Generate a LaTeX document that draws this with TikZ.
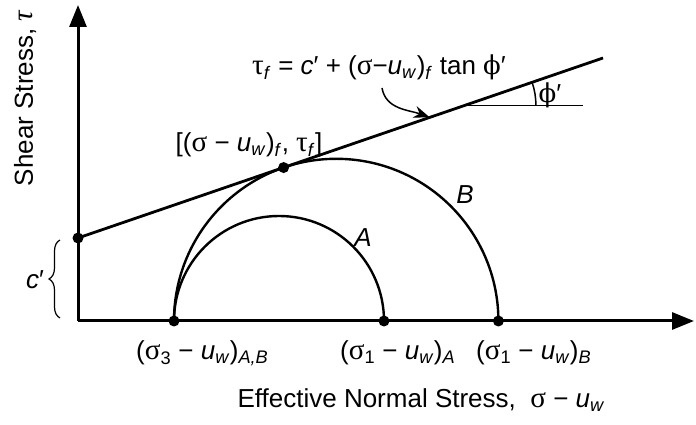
\documentclass[tikz,border=0pt]{standalone}
\usepackage{fontspec}
\setmainfont{Liberation Sans}
\newfontfamily\grk[Scale=1.12]{Liberation Serif}
\newfontfamily\phifont{DejaVu Serif}
\usepackage{tikz}
\usetikzlibrary{arrows.meta, calc, decorations.pathreplacing}
\newcommand{\sig}{{\grk σ}}
\newcommand{\tu}{{\grk τ}}
\newcommand{\fy}{{\phifont ϕ}}
\newcommand{\uw}{\textit{u}\textsubscript{\textit{w}}}
\newcommand{\sub}[1]{\textsubscript{#1}}
\tikzset{
  axis/.style={line width=3pt, -{Triangle[length=22pt, width=17pt]}},
  envl/.style={line width=2.8pt},
  mohr/.style={line width=2.4pt},
  guide/.style={line width=1.5pt},
  dot/.style={circle, fill=black, inner sep=0pt, minimum size=11pt},
  lbl/.style={font=\fontsize{26}{30}\selectfont, inner sep=0pt},
}

\begin{document}
\begin{tikzpicture}[x=1pt, y=1pt]
  \useasboundingbox (-78,-104) rectangle (618,321);
  % axes
  \coordinate (o) at (0,0);
  \coordinate (ytop) at (0,316);
  \coordinate (xend) at (616,0);
  \draw[axis] (o) -- (ytop);
  \draw[axis] (o) -- (xend);
  % points on the axes
  \node[dot] (cp) at (0,83) {};
  \node[dot] (s3) at (96,0) {};
  \node[dot] (s1a) at (306,0) {};
  \node[dot] (s1b) at (420.4,0) {};
  % Mohr circles
  \draw[mohr] (s3.center) arc[start angle=180, end angle=0, radius=105pt];
  \draw[mohr] (s3.center) arc[start angle=180, end angle=0, radius=162.2pt];
  % failure envelope, tangent to circle B
  \coordinate (lend) at (525,263);
  \draw[envl] (cp.center) -- (lend);
  \node[dot] (tp) at ($(258.2,0)+(108.92:162.2)$) {};
  % friction angle
  \coordinate (vtx) at ($(cp.center)!0.737!(lend)$);
  \draw[guide] (vtx) -- ++(118,0) coordinate (hend);
  \draw[guide] ($(vtx)+(71,0)$) arc[start angle=0, end angle=18.92, radius=71pt];
  \node[lbl] (phi) at (472,226) {\fy′};
  % equation with pointer
  \node[lbl, anchor=base] (eq) at (301,246)
        {\tu\sub{\textit{f}} = \textit{c}′ + (\sig−\uw)\sub{\textit{f}} tan \fy′};
  \coordinate (tail) at (304,233);
  \coordinate (head) at ($(cp.center)!0.67!(lend)$);
  \draw[line width=1.5pt, -{Stealth[length=16pt, width=12pt]}]
        (tail) to[out=-80, in=160] (head);
  \node[lbl, anchor=base] (tpl) at (171,169)
        {[(\sig\ − \uw)\sub{\textit{f}}, \tu\sub{\textit{f}}]};
  \node[lbl] (la) at (285,83) {\textit{A}};
  \node[lbl] (lb) at (387,126) {\textit{B}};
  % cohesion
  \draw[decorate, decoration={brace, amplitude=11pt}, line width=1.2pt]
        (-18,3) -- (-18,81);
  \node[lbl] (cl) at (-43,41) {\textit{c}′};
  % axis labels
  \node[lbl, anchor=base west] (l3) at (58,-39)
        {(\sig\sub{3} − \uw)\sub{\textit{A,B}}};
  \node[lbl, anchor=base west] (l1a) at (262,-39)
        {(\sig\sub{1} − \uw)\sub{\textit{A}}};
  \node[lbl, anchor=base west] (l1b) at (398,-39)
        {(\sig\sub{1} − \uw)\sub{\textit{B}}};
  \node[lbl, anchor=base east] (xl) at (527,-87)
        {Effective Normal Stress,\ \ \sig\ − \uw};
  \node[lbl, rotate=90] (yl) at (-53,223) {Shear Stress, \textit{\tu}};
\end{tikzpicture}
\end{document}
